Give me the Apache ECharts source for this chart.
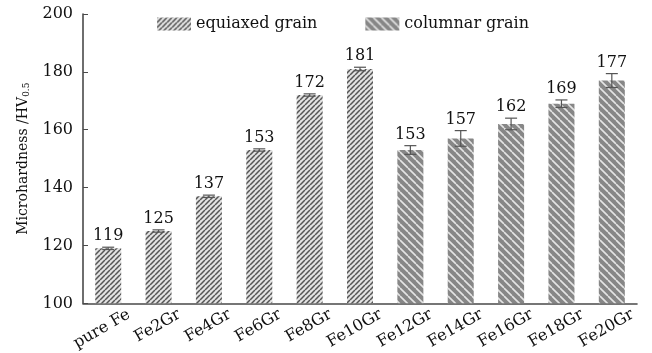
<!DOCTYPE html>
<html>
<head>
<meta charset="utf-8">
<script src="https://cdn.jsdelivr.net/npm/echarts@6/dist/echarts.min.js"></script>
<style>
  html, body { margin: 0; padding: 0; background: #fff; }
  #chart { width: 652px; height: 353px; }
</style>
</head>
<body>
<div id="chart"></div>
<script>
// Microhardness of pure Fe and Fe–graphene samples
const categories = ['pure Fe', 'Fe2Gr', 'Fe4Gr', 'Fe6Gr', 'Fe8Gr', 'Fe10Gr',
                    'Fe12Gr', 'Fe14Gr', 'Fe16Gr', 'Fe18Gr', 'Fe20Gr'];
const equiaxedValues = [119, 125, 137, 153, 172, 181];
const equiaxedErrors = [0.4, 0.4, 0.4, 0.4, 0.4, 0.6];
const columnarValues = [153, 157, 162, 169, 177];
const columnarErrors = [1.5, 2.7, 2.0, 1.3, 2.4];
const yTicks = { min: 100, max: 200, interval: 20 };

const FONT = '"DejaVu Serif", "Liberation Serif", serif';
const INK = '#111';
const AXIS = '#4a4a4a';

// Hatch tile: dir = 1 for "/" , -1 for "\"
function hatch(size, bg, fg, lw, dir) {
  const c = document.createElement('canvas');
  c.width = size; c.height = size;
  const g = c.getContext('2d');
  g.fillStyle = bg; g.fillRect(0, 0, size, size);
  g.strokeStyle = fg; g.lineWidth = lw;
  g.beginPath();
  for (let k = -1; k <= 1; k++) {
    if (dir > 0) {
      g.moveTo(k * size, size); g.lineTo(k * size + size, 0);
    } else {
      g.moveTo(k * size, 0); g.lineTo(k * size + size, size);
    }
  }
  g.stroke();
  return c;
}

const equiaxedFill = { image: hatch(5, '#e2e2e2', '#555', 1.5, 1), repeat: 'repeat' };
const columnarFill = { image: hatch(8, '#878787', '#e4e4e4', 1.6, -1), repeat: 'repeat' };

// Place each group's values on the shared category axis
const nEq = equiaxedValues.length;
const eqBarData = categories.map((_, i) => i < nEq ? equiaxedValues[i] : '-');
const colBarData = categories.map((_, i) => i >= nEq ? columnarValues[i - nEq] : '-');
const errData = [];
equiaxedValues.forEach((v, i) => errData.push([i, v, equiaxedErrors[i]]));
columnarValues.forEach((v, i) => errData.push([i + nEq, v, columnarErrors[i]]));

function renderErrorBar(params, api) {
  const x = api.value(0), v = api.value(1), e = api.value(2);
  const hi = api.coord([x, v + e]);
  const lo = api.coord([x, v - e]);
  const half = 6;
  const st = { stroke: '#555', lineWidth: 1.2 };
  return {
    type: 'group',
    children: [
      { type: 'line', shape: { x1: hi[0], y1: hi[1], x2: lo[0], y2: lo[1] }, style: st },
      { type: 'line', shape: { x1: hi[0] - half, y1: hi[1], x2: hi[0] + half, y2: hi[1] }, style: st },
      { type: 'line', shape: { x1: lo[0] - half, y1: lo[1], x2: lo[0] + half, y2: lo[1] }, style: st },
      { type: 'text', x: hi[0], y: hi[1] - 3,
        style: { text: String(v), align: 'center', verticalAlign: 'bottom',
                 font: '16px ' + FONT, fill: INK } }
    ]
  };
}

const chart = echarts.init(document.getElementById('chart'), null, { renderer: 'canvas' });
chart.setOption({
  animation: false,
  backgroundColor: '#fff',
  grid: { left: 83, right: 15, top: 14, bottom: 49 },
  legend: {
    left: 152, top: 11,
    itemWidth: 34, itemHeight: 13, itemGap: 48,
    icon: 'rect',
    textStyle: { fontFamily: FONT, fontSize: 16, color: INK },
    data: ['equiaxed grain', 'columnar grain']
  },
  xAxis: {
    type: 'category',
    data: categories,
    axisLine: { lineStyle: { color: AXIS, width: 1.6 } },
    axisTick: { inside: true, alignWithLabel: true, length: 5, lineStyle: { color: AXIS } },
    axisLabel: {
      rotate: 30, margin: 22, interval: 0,
      fontFamily: FONT, fontSize: 16, color: INK,
      padding: [0, -24, 0, 0]
    }
  },
  yAxis: {
    type: 'value',
    min: yTicks.min, max: yTicks.max, interval: yTicks.interval,
    name: '{a|Microhardness /HV}{s|0.5}',
    nameLocation: 'middle', nameGap: 48, nameRotate: 90,
    nameTextStyle: {
      rich: {
        a: { fontFamily: FONT, fontSize: 14, color: INK },
        s: { fontFamily: FONT, fontSize: 9, color: INK, verticalAlign: 'bottom', padding: [7, 0, 0, 0] }
      }
    },
    axisLine: { show: true, lineStyle: { color: AXIS, width: 1.6 } },
    axisTick: { show: true, inside: true, length: 5, lineStyle: { color: AXIS } },
    splitLine: { show: false },
    axisLabel: { margin: 10, fontFamily: FONT, fontSize: 16, color: INK }
  },
  series: [
    {
      name: 'equiaxed grain', type: 'bar', data: eqBarData,
      barWidth: 26, barGap: '-100%',
      itemStyle: { color: equiaxedFill }
    },
    {
      name: 'columnar grain', type: 'bar', data: colBarData,
      barWidth: 26, barGap: '-100%',
      itemStyle: { color: columnarFill }
    },
    {
      type: 'custom', data: errData, renderItem: renderErrorBar,
      encode: { x: 0, y: 1 }, z: 5, silent: true
    }
  ]
});
</script>
</body>
</html>
